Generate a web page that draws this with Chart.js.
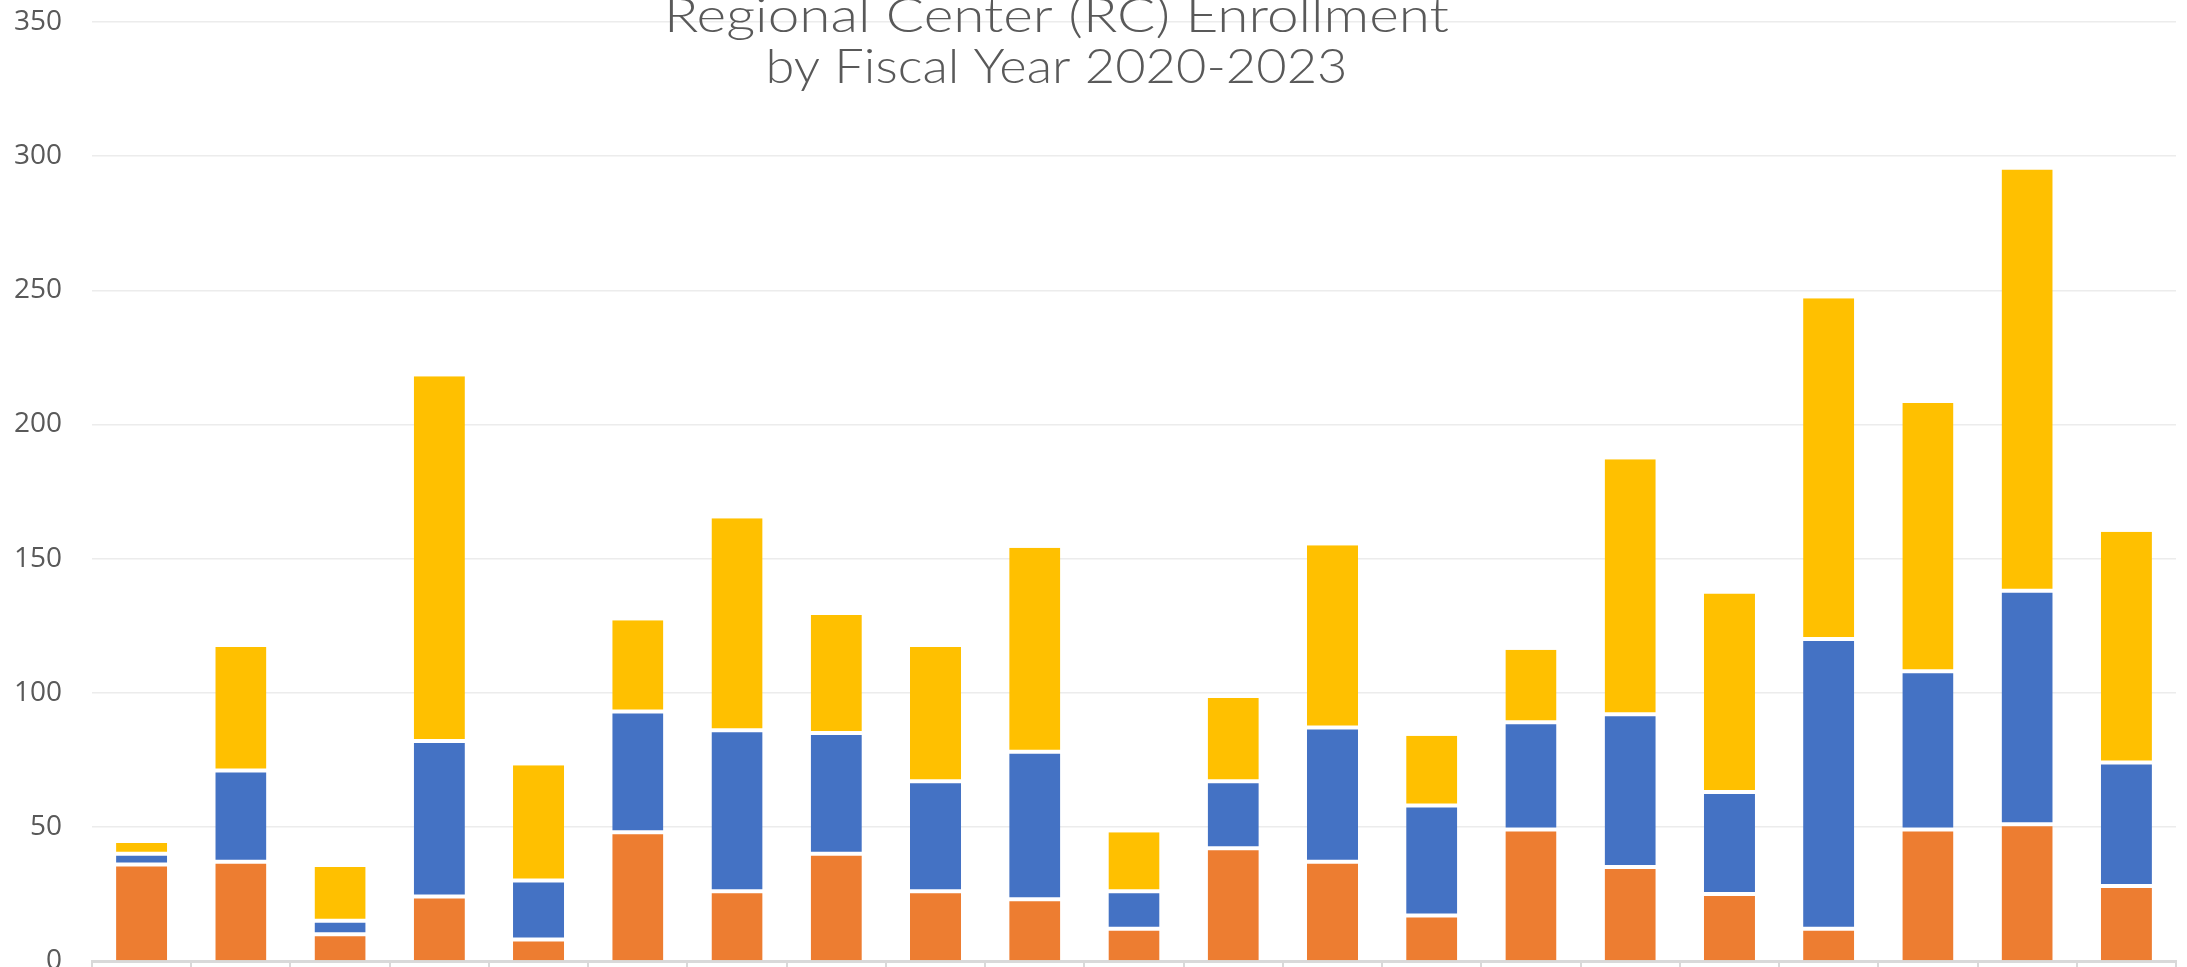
<!DOCTYPE html>
<html>
<head>
<meta charset="utf-8">
<script src="https://cdn.jsdelivr.net/npm/chart.js@4.4.1/dist/chart.umd.min.js"></script>
<style>
  html, body { margin: 0; padding: 0; background: #ffffff; overflow: hidden; }
  #wrap { position: relative; width: 2187px; height: 967px; }
</style>
</head>
<body>
<div id="wrap"><canvas id="c"></canvas></div>
<script>
// ---- data ----
const categories = [
  'Alta California', 'Central Valley', 'East Bay', 'Eastern Los Angeles', 'Far Northern',
  'Frank D. Lanterman', 'Golden Gate', 'Harbor', 'Inland', 'Kern', 'North Bay',
  'North Los Angeles County', 'Orange County', 'Redwood Coast', 'San Andreas', 'San Diego',
  'San Gabriel/Pomona', 'South Central Los Angeles', 'Tri-Counties', 'Valley Mountain', 'Westside'
];
const seriesNames = ['FY 2020-21', 'FY 2021-22', 'FY 2022-23'];
const fy2021 = [36, 37, 10, 24, 8, 48, 26, 40, 26, 23, 12, 42, 37, 17, 49, 35, 25, 12, 49, 51, 28];
const fy2122 = [4, 34, 5, 58, 22, 45, 60, 45, 41, 55, 14, 25, 50, 41, 40, 57, 38, 108, 59, 87, 46];
const fy2223 = [4, 46, 20, 136, 43, 34, 79, 44, 50, 76, 22, 31, 68, 26, 27, 95, 74, 127, 100, 157, 86];
const yTicks = [0, 50, 100, 150, 200, 250, 300, 350];
const titleLines = ['Regional Center (RC) Enrollment', 'by Fiscal Year 2020-2023'];

const colors = ['#ED7D31', '#4472C4', '#FFC000'];

// title overlaid on the plot (as in the original), each line fitted to the original's width
const titleLayout = [
  { baseline: 32, width: 785 },
  { baseline: 83, width: 582 }
];
const overlayTitle = {
  id: 'overlayTitle',
  afterDraw(chart) {
    const ctx = chart.ctx;
    const cx = chart.width / 2 - 37;
    titleLines.forEach((txt, i) => {
      ctx.save();
      ctx.font = '300 47px Lato, "Open Sans", sans-serif';
      ctx.fillStyle = '#595959';
      ctx.textAlign = 'center';
      ctx.textBaseline = 'alphabetic';
      const w = ctx.measureText(txt).width;
      const sx = titleLayout[i].width / w;
      ctx.translate(cx, titleLayout[i].baseline);
      ctx.scale(sx, 1);
      ctx.fillText(txt, 0, 0);
      ctx.restore();
    });
  }
};

const seg = (i, top, bottom) => ({
  label: seriesNames[i],
  data: [fy2021, fy2122, fy2223][i],
  backgroundColor: colors[i],
  borderColor: '#ffffff',
  borderWidth: { top: top, bottom: bottom, left: 0, right: 0 },
  borderSkipped: false,
  barPercentage: 0.515,
  categoryPercentage: 1.0
});

new Chart(document.getElementById('c'), {
  type: 'bar',
  data: {
    labels: categories,
    datasets: [seg(0, 2, 0), seg(1, 2, 2), seg(2, 0, 2)]
  },
  options: {
    responsive: true,
    maintainAspectRatio: false,
    animation: false,
    layout: { padding: { top: 22, right: 11, bottom: 0, left: 0 } },
    plugins: {
      legend: { display: false },
      title: { display: false },
      tooltip: { enabled: false }
    },
    scales: {
      x: {
        stacked: true,
        offset: true,
        grid: {
          offset: true,
          drawOnChartArea: false,
          drawTicks: true,
          tickLength: 6,
          color: '#d9d9d9',
          lineWidth: 2
        },
        border: { display: true, color: '#d9d9d9', width: 3 },
        ticks: { display: false }
      },
      y: {
        stacked: true,
        min: 0,
        max: 350,
        afterBuildTicks(scale) { scale.ticks = yTicks.map(v => ({ value: v })); },
        afterFit(scale) { scale.width = 92; },
        grid: {
          color: '#ececec',
          lineWidth: 1.5,
          drawTicks: true,
          tickLength: 30,
          tickColor: 'rgba(0,0,0,0)'
        },
        border: { display: false },
        ticks: {
          padding: 0,
          color: '#595959',
          font: { family: '"Open Sans", sans-serif', size: 28, lineHeight: 0.4 }
        }
      }
    }
  },
  plugins: [overlayTitle]
});
</script>
</body>
</html>
